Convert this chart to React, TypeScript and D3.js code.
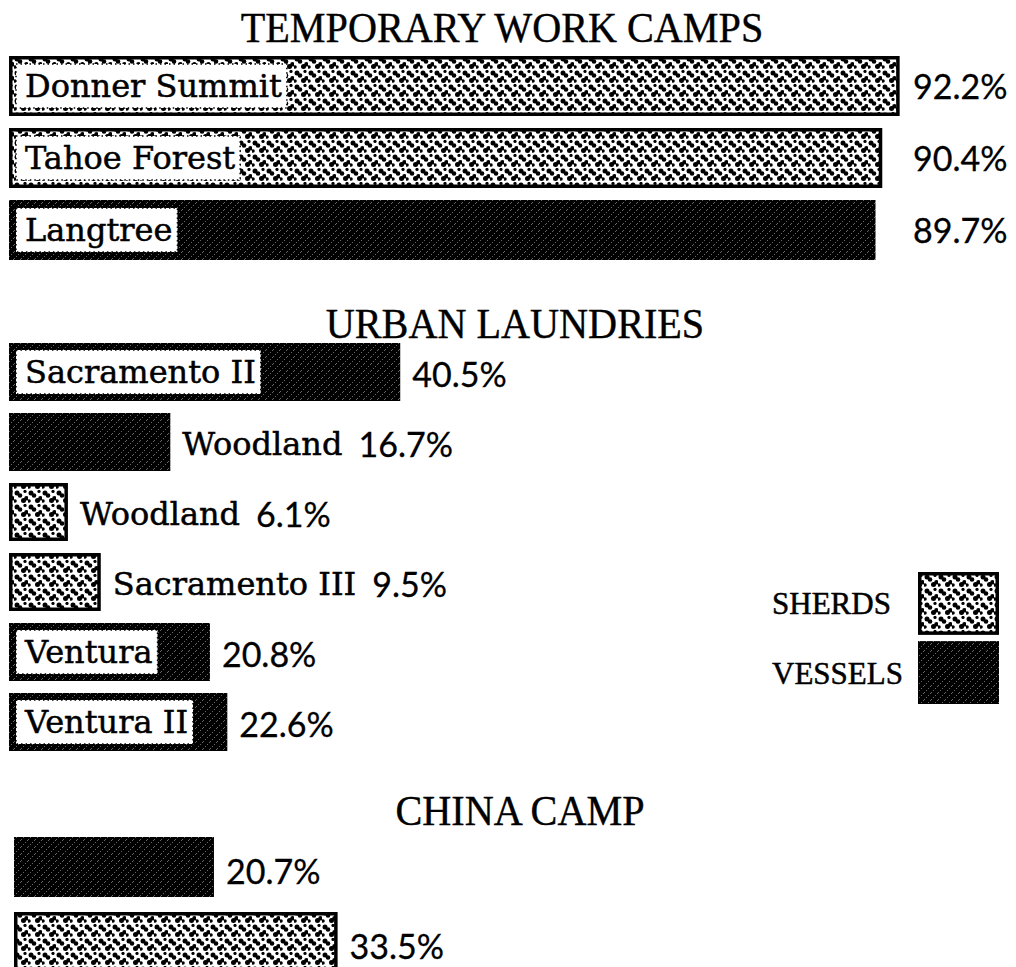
import React from "react";
import * as d3 from "d3";

// ---------- data ----------
const groupTitles = ["TEMPORARY WORK CAMPS", "URBAN LAUNDRIES", "CHINA CAMP"];

const campSites = ["Donner Summit", "Tahoe Forest", "Langtree"];
const campValues = [92.2, 90.4, 89.7];
const campTypes = ["SHERDS", "SHERDS", "VESSELS"];

const laundrySites = ["Sacramento II", "Woodland", "Woodland", "Sacramento III", "Ventura", "Ventura II"];
const laundryValues = [40.5, 16.7, 6.1, 9.5, 20.8, 22.6];
const laundryTypes = ["VESSELS", "VESSELS", "SHERDS", "SHERDS", "VESSELS", "VESSELS"];

const chinaSites = ["", ""];
const chinaValues = [20.7, 33.5];
const chinaTypes = ["VESSELS", "SHERDS"];

const legendItems = ["SHERDS", "VESSELS"];

// ---------- layout ----------
const W = 1016;
const H = 967;
const LABEL_FONT = "'DejaVu Serif', serif";
const LABEL_SIZE = 32;
const VALUE_FONT = "Lato, 'Open Sans', sans-serif";
const VALUE_SIZE = 34;
const TITLE_FONT = "'Liberation Serif', 'Times New Roman', serif";

const x = d3.scaleLinear().domain([0, 100]).range([0, 966]);

const groups = [
  { title: groupTitles[0], sites: campSites, values: campValues, types: campTypes,
    titleX: 502, titleY: 42, top: 56, pitch: 72, barH: 60, x0: 9, fixedValueX: 913, valueDy: 13 },
  { title: groupTitles[1], sites: laundrySites, values: laundryValues, types: laundryTypes,
    titleX: 515, titleY: 338, top: 343, pitch: 70, barH: 58, x0: 9, fixedValueX: null, valueDy: 15 },
  { title: groupTitles[2], sites: chinaSites, values: chinaValues, types: chinaTypes,
    titleX: 520, titleY: 825, top: 837, pitch: 75, barH: 60, x0: 14, fixedValueX: null, valueDy: 17 },
];

let ctx: CanvasRenderingContext2D | null = null;
function measure(text: string, font: string): number {
  if (!ctx) ctx = document.createElement("canvas").getContext("2d");
  if (!ctx) return text.length * 18;
  ctx.font = font;
  return ctx.measureText(text).width;
}

const fillFor = (t: string) => (t === "SHERDS" ? "url(#sherds)" : "url(#vessels)");

function Bar({ g, i }: { g: any; i: number }) {
  const n = g.values.length;
  const gap = g.pitch - g.barH;
  const y = d3
    .scaleBand<number>()
    .domain(d3.range(n))
    .range([g.top, g.top + n * g.pitch - gap])
    .paddingInner(gap / g.pitch)
    .paddingOuter(0);
  const v = g.values[i];
  const name = g.sites[i];
  const type = g.types[i];
  const by = y(i)!;
  const bh = y.bandwidth();
  const bw = x(v);
  const cy = by + bh / 2;
  const nameW = name ? measure(name, `${LABEL_SIZE}px DejaVu Serif`) : 0;
  const inside = name && bw >= nameW + 40;
  const pct = `${v.toFixed(1)}%`;
  const sw = type === "SHERDS" ? 3.5 : 0;
  let valueX: number;
  let outsideName: React.ReactNode = null;
  if (g.fixedValueX != null) valueX = g.fixedValueX;
  else if (name && !inside) {
    const nx = g.x0 + bw + 12;
    outsideName = (
      <text x={nx} y={cy + 13} fontFamily={LABEL_FONT} fontSize={LABEL_SIZE} fill="#000"
        stroke="#000" strokeWidth={0.5}>
        {name}
      </text>
    );
    valueX = nx + nameW + 16;
  } else valueX = g.x0 + bw + 12;
  return (
    <g>
      <rect
        x={g.x0 + sw / 2}
        y={by + sw / 2}
        width={bw - sw}
        height={bh - sw}
        fill={fillFor(type)}
        stroke={sw ? "#000" : "none"}
        strokeWidth={sw}
      />
      {inside && (
        <g>
          <rect x={g.x0 + 7} y={cy - 22} width={nameW + 14} height={44} fill="#fff"
            stroke="#000" strokeWidth={1.5} strokeDasharray="1.5 3" />
          <text x={g.x0 + 16} y={cy + 11} fontFamily={LABEL_FONT} fontSize={LABEL_SIZE} fill="#000"
            stroke="#000" strokeWidth={0.5}>
            {name}
          </text>
        </g>
      )}
      {outsideName}
      <text x={valueX} y={cy + g.valueDy} fontFamily={VALUE_FONT} fontSize={VALUE_SIZE} fill="#000"
        stroke="#000" strokeWidth={0.3}>
        {pct}
      </text>
    </g>
  );
}

export default function App() {
  return (
    <svg
      width={W}
      height={H}
      viewBox={`0 0 ${W} ${H}`}
      style={{ position: "absolute", left: 0, top: 0, display: "block", background: "#fff" }}
    >
      <defs>
        <pattern id="sherds" patternUnits="userSpaceOnUse" width="14" height="14">
          <rect width="14" height="14" fill="#fff" />
          <circle cx="3" cy="3" r="2.5" fill="#000" />
          <circle cx="6" cy="5.5" r="2.3" fill="#000" />
          <circle cx="9.5" cy="10.5" r="2.5" fill="#000" />
          <circle cx="12.5" cy="8.3" r="2.3" fill="#000" />
          <circle cx="1" cy="11" r="1.8" fill="#000" />
          <circle cx="11" cy="1.5" r="1.6" fill="#000" />
        </pattern>
        <pattern id="vessels" patternUnits="userSpaceOnUse" width="7" height="7">
          <rect width="7" height="7" fill="#000" />
          <line x1="0" y1="7" x2="7" y2="0" stroke="#fff" strokeWidth="0.9"
            strokeDasharray="0.9 2" opacity="0.7" />
        </pattern>
      </defs>

      {groups.map((g, gi) => (
        <g key={gi}>
          <text
            transform={`translate(${g.titleX},${g.titleY}) scale(0.935,1)`}
            textAnchor="middle"
            fontFamily={TITLE_FONT}
            fontSize={43}
            fill="#000"
            stroke="#000"
            strokeWidth={0.4}
          >
            {g.title}
          </text>
          {g.values.map((_: number, i: number) => (
            <Bar key={i} g={g} i={i} />
          ))}
        </g>
      ))}

      {/* legend */}
      {legendItems.map((item, i) => {
        const ly = d3.scaleBand<number>().domain([0, 1]).range([572, 704]).paddingInner(0.09);
        const by = ly(i)!;
        const bh = ly.bandwidth();
        const sw = item === "SHERDS" ? 3.5 : 0;
        return (
          <g key={item}>
            <text x={772} y={by + bh / 2 + 11} fontFamily={TITLE_FONT} fontSize={31} fill="#000"
              stroke="#000" strokeWidth={0.5}>
              {item}
            </text>
            <rect x={918 + sw / 2} y={by + sw / 2} width={81 - sw} height={bh - sw}
              fill={fillFor(item)} stroke={sw ? "#000" : "none"} strokeWidth={sw} />
          </g>
        );
      })}
    </svg>
  );
}
